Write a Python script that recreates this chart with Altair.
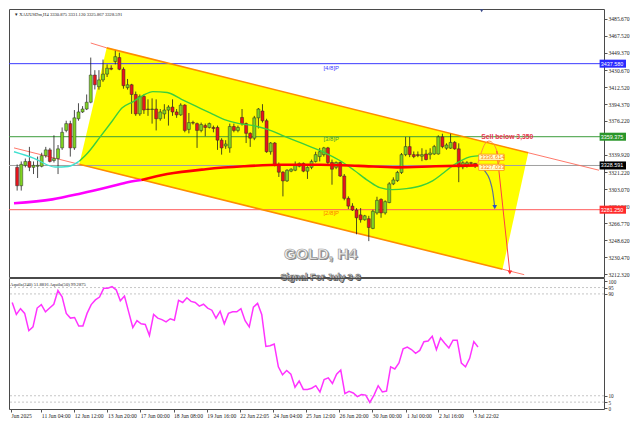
import json
import altair as alt
import pandas as pd

# ---------------- candles (XAUUSDm, H4) ----------------
opens = [3326.6, 3306.9, 3328.7, 3332.9, 3326.6, 3327.7, 3327.7, 3339.1, 3345.3, 3333.9,
         3336.0, 3347.4, 3366.1, 3373.4, 3347.4, 3378.6, 3385.9, 3389.0, 3396.3, 3425.4,
         3412.9, 3420.2, 3426.4, 3432.7, 3439.9, 3444.1, 3431.6, 3411.9, 3415.0, 3404.6,
         3383.8, 3402.5, 3389.0, 3388.5, 3389.0, 3378.6, 3383.8, 3387.9, 3391.1, 3385.9,
         3382.8, 3393.2, 3367.2, 3374.5, 3373.4, 3366.1, 3371.3, 3369.3, 3369.3, 3369.3,
         3355.7, 3349.5, 3347.4, 3370.3, 3366.1, 3380.0, 3373.4, 3363.0, 3357.8, 3379.6,
         3386.9, 3376.5, 3343.3, 3352.6, 3329.8, 3321.4, 3312.1, 3322.5, 3323.5, 3327.7,
         3330.8, 3322.5, 3326.6, 3332.9, 3338.1, 3340.2, 3347.4, 3331.8, 3326.6, 3331.8,
         3317.3, 3293.4, 3285.1, 3280.9, 3275.7, 3270.5, 3271.6, 3261.2, 3277.8, 3292.3,
         3277.8, 3288.9, 3308.9, 3312.4, 3321.1, 3340.2, 3348.8, 3340.2, 3340.2, 3338.5,
         3340.9, 3340.2, 3340.9, 3340.9, 3359.2, 3347.1, 3347.1, 3353.3, 3346.4, 3327.0,
         3329.0, 3331.5, 3330.875]
highs = [3329.7, 3332.9, 3336.0, 3348.5, 3332.9, 3338.1, 3342.2, 3348.5, 3347.4, 3360.9,
         3350.5, 3369.3, 3376.5, 3376.5, 3387.9, 3395.2, 3392.1, 3404.6, 3444.1, 3430.6,
         3430.6, 3442.0, 3436.8, 3435.8, 3451.4, 3449.3, 3433.7, 3421.2, 3416.0, 3407.7,
         3404.6, 3404.6, 3399.4, 3400.4, 3399.4, 3389.0, 3394.2, 3393.1, 3399.4, 3389.0,
         3395.2, 3394.2, 3384.8, 3376.5, 3374.5, 3374.5, 3373.4, 3374.5, 3371.3, 3371.3,
         3357.8, 3355.7, 3373.4, 3373.4, 3371.3, 3389.0, 3374.5, 3364.1, 3381.7, 3390.1,
         3394.2, 3378.6, 3353.7, 3353.7, 3331.8, 3322.5, 3324.6, 3325.6, 3332.9, 3331.8,
         3331.8, 3327.7, 3334.9, 3343.3, 3347.4, 3348.5, 3348.5, 3334.9, 3332.9, 3332.9,
         3319.4, 3295.5, 3288.2, 3283.0, 3283.0, 3275.7, 3274.7, 3281.2, 3295.1, 3293.4,
         3291.3, 3310.7, 3315.9, 3322.8, 3341.9, 3359.2, 3359.2, 3343.6, 3343.6, 3347.0,
         3345.4, 3347.0, 3350.6, 3360.9, 3362.6, 3352.3, 3362.6, 3354.7, 3352.3, 3333.2,
         3333.2, 3332.5, 3331.120]
lows = [3301.7, 3301.7, 3326.6, 3322.5, 3319.4, 3315.2, 3326.6, 3337.0, 3331.8, 3331.8,
        3319.4, 3345.3, 3364.1, 3338.1, 3345.3, 3376.5, 3384.8, 3387.9, 3395.2, 3410.0,
        3409.8, 3418.1, 3423.3, 3430.6, 3436.8, 3430.6, 3410.8, 3409.8, 3383.8, 3381.7,
        3381.7, 3383.8, 3381.7, 3373.4, 3366.1, 3376.5, 3378.6, 3371.3, 3381.7, 3379.6,
        3381.7, 3364.1, 3363.0, 3372.4, 3347.4, 3364.1, 3359.9, 3368.2, 3364.1, 3345.3,
        3340.2, 3346.4, 3342.2, 3364.1, 3364.1, 3371.3, 3352.6, 3348.5, 3355.7, 3368.2,
        3374.5, 3342.2, 3340.2, 3327.7, 3316.3, 3295.5, 3311.0, 3321.4, 3322.5, 3326.6,
        3321.4, 3314.2, 3324.6, 3331.8, 3332.9, 3338.1, 3329.8, 3308.0, 3324.6, 3316.3,
        3291.3, 3281.9, 3279.9, 3254.9, 3267.4, 3269.5, 3247.6, 3260.4, 3276.0, 3272.6,
        3276.0, 3288.2, 3307.6, 3311.0, 3319.5, 3338.5, 3337.5, 3336.4, 3337.5, 3333.2,
        3334.0, 3335.0, 3339.9, 3340.2, 3347.0, 3345.4, 3346.4, 3345.4, 3310.7, 3324.6,
        3326.3, 3329.0, 3325.867]
closes = [3306.9, 3329.8, 3332.9, 3326.6, 3328.7, 3328.7, 3339.1, 3345.3, 3332.9, 3336.0,
          3346.4, 3364.1, 3373.4, 3347.4, 3379.6, 3385.9, 3389.0, 3396.3, 3425.4, 3415.0,
          3420.2, 3426.4, 3432.7, 3431.7, 3445.1, 3431.6, 3414.0, 3415.0, 3404.6, 3383.8,
          3402.5, 3388.0, 3388.5, 3389.0, 3378.6, 3385.9, 3387.9, 3391.1, 3385.9, 3382.8,
          3393.2, 3366.1, 3374.5, 3374.0, 3366.1, 3372.4, 3369.3, 3373.4, 3368.2, 3355.7,
          3347.4, 3351.6, 3370.3, 3366.1, 3369.3, 3373.4, 3363.0, 3357.8, 3379.6, 3389.0,
          3376.5, 3343.3, 3352.6, 3329.8, 3321.4, 3312.1, 3323.5, 3324.6, 3328.7, 3330.8,
          3322.5, 3326.6, 3332.9, 3340.2, 3343.3, 3347.4, 3331.8, 3324.6, 3331.8, 3317.3,
          3293.4, 3285.1, 3280.9, 3272.6, 3270.5, 3274.7, 3262.2, 3279.6, 3291.3, 3277.8,
          3289.9, 3308.9, 3313.1, 3321.1, 3340.2, 3348.8, 3340.2, 3338.1, 3339.2, 3340.2,
          3335.0, 3341.9, 3348.8, 3359.2, 3348.8, 3350.5, 3353.3, 3346.4, 3327.0, 3331.5,
          3331.5, 3330.9, 3328.591]

# ---------------- moving averages ----------------
fast_cyan_x = [-0.77, 4.0, 9.3, 12.5, 15.2]
fast_cyan_y = [3343.3, 3336.5, 3326.9, 3327.5, 3333.2]
fast_green_x = [15.2, 17.3, 20.3, 23.3, 25.7, 28.5, 30.8, 33.2, 36.7, 40.2, 43.7, 47.2, 50.7,
                54.3, 57.8, 61.3, 64.8, 68.3, 71.8, 75.3, 78.9, 82.4, 85.9, 88.7, 91.7, 95.2,
                98.8, 101.6, 103.9, 106.3, 108.6, 111.0, 113.3]
fast_green_y = [3333.2, 3342.2, 3359.2, 3376.5, 3390.3, 3397.3, 3403.6, 3407.7, 3406.7, 3399.4,
                3392.1, 3384.8, 3377.6, 3373.4, 3371.3, 3367.2, 3360.9, 3354.7, 3348.5, 3342.2,
                3333.9, 3323.5, 3312.1, 3304.8, 3302.7, 3303.8, 3306.9, 3312.1, 3319.4, 3327.7,
                3333.9, 3338.1, 3339.1]
slow_mag_x = [-0.77, 8.6, 15.6, 22.6, 27.3, 30.4]
slow_mag_y = [3288.2, 3292.3, 3298.6, 3305.8, 3311.0, 3313.1]
slow_red_x = [30.4, 36.7, 46.1, 55.4, 64.8, 74.2, 83.5, 92.9, 102.3, 112.8]
slow_red_y = [3313.1, 3319.4, 3324.6, 3327.7, 3329.3, 3329.3, 3328.2, 3326.6, 3327.7, 3328.7]

# ---------------- channel ----------------
yel_x = [15.2, 21.9, 118.7, 125.0]
yel_top = [3329.8, 3454.5, 3349.1, 3342.2]
yel_bot = [3329.8, 3322.5, 3217.5, 3342.2]
chan_main_x = [21.9, 125.0, 15.2, 118.7]
chan_main_y = [3454.5, 3342.2, 3329.8, 3217.5]
chan_main_seg = ["u", "u", "l", "l"]
chan_ext_x = [18.0, 21.9, 125.0, 142.3, -0.77, 15.2, 118.7, 124.0]
chan_ext_y = [3459.7, 3454.5, 3342.2, 3323.5, 3347.4, 3329.8, 3217.5, 3211.7]
chan_ext_seg = ["a", "a", "b", "b", "c", "c", "d", "d"]

# ---------------- levels ----------------
level_prices = [3437.58, 3359.375, 3328.591, 3281.25]
level_labels = ["3437.580", "3359.375", "3328.591", "3281.250"]
level_line_colors = ["#3b3bff", "#3c9c3c", "#a0a0a0", "#ff5a5a"]
level_box_colors = ["#2a2aff", "#2a962a", "#000000", "#ff2a2a"]
murrey_labels = ["[4/8]P", "[3/8]P", "[2/8]P"]
murrey_prices = [3433.2, 3356.8, 3277.8]
murrey_colors = ["#3c3cff", "#3a9a3a", "#ff7a00"]

# ---------------- forecast paths ----------------
sell_x = [112.6, 113.5, 114.4, 115.4, 116.3, 117.3, 118.0]
sell_y = [3329.8, 3342.2, 3351.6, 3354.7, 3352.6, 3344.3, 3331.8]
drop_x = [117.3, 120.5]
drop_y = [3344.3, 3214.0]
alt_x = [113.0, 114.4, 115.6, 116.3, 116.8]
alt_y = [3327.7, 3322.5, 3313.1, 3300.7, 3284.0]
box_labels = ["3336.614", "3327.033"]
box_prices = [3337.4, 3326.6]

price_ticks = [3485.67, 3467.52, 3449.37, 3430.67, 3412.52, 3394.37, 3376.22,
               3339.92, 3321.22, 3303.07, 3284.92, 3266.77, 3248.62, 3230.47, 3212.32]

# ---------------- Aquila oscillator ----------------
aquila = [83.3, 73.9, 78.4, 74.7, 61.1, 64.1, 78.9, 81.6, 75.9,
          78.9, 81.9, 92.7, 87.8, 74.7, 71.0, 71.5, 64.8, 64.8, 74.7,
          81.6, 85.3, 87.5, 94.4, 94.4, 95.7, 93.2, 84.6, 88.3, 75.9,
          63.6, 69.0, 66.5, 66.0, 57.4, 73.9, 71.0, 69.8, 68.0, 70.5,
          69.3, 85.0, 83.3, 87.0, 84.1, 83.3, 80.4, 81.9, 78.9, 77.2,
          71.0, 76.4, 66.5, 74.7, 75.9, 75.9, 78.4, 69.0, 64.1, 79.6,
          82.6, 73.9, 48.7, 49.3, 50.7, 32.7, 26.5, 29.8, 27.0, 16.7,
          21.6, 15.0, 15.0, 15.9, 17.9, 13.0,
          22.8, 24.1, 19.6, 27.0, 30.2, 11.7, 13.5, 12.2, 9.3, 11.0,
          10.5, 4.8, 10.5, 17.9, 13.0, 13.7, 32.7, 31.0, 35.7, 46.8,
          48.3, 46.3, 43.3, 45.6, 52.5, 53.0, 56.7, 46.3, 55.4, 51.3,
          47.6, 53.7, 53.7, 35.7, 32.7, 39.4, 52.5, 48.3]
osc_levels = [95, 90, 10, 5]
osc_ticks = [0, 5, 10, 90, 95, 100]

time_ticks = [-0.3, 7.0, 14.9, 22.9, 30.8, 38.8, 46.8, 54.7, 62.7, 70.6, 78.6, 86.6, 94.8, 102.5, 110.9]
time_labels = ["Jun 2025", "11 Jun 04:00", "12 Jun 12:00", "13 Jun 20:00", "17 Jun 00:00",
               "18 Jun 08:00", "19 Jun 16:00", "22 Jun 22:05", "24 Jun 04:00", "25 Jun 12:00",
               "26 Jun 20:00", "30 Jun 00:00", "1 Jul 00:00", "2 Jul 16:00", "3 Jul 22:02"]

# ---------------- build ----------------
W, H1, H2 = 595, 268, 131
SERIF = "Liberation Serif"
SANS = "Liberation Sans"

xsc = alt.Scale(domain=[-0.77, 142.3], nice=False, zero=False)
ysc = alt.Scale(domain=[3209.2, 3496.1], nice=False, zero=False)
osc_sc = alt.Scale(domain=[-0.4, 102.5], nice=False, zero=False)

y_axis = alt.Axis(orient="right", values=price_ticks, format=".3f", labelFont=SERIF,
                  labelFontSize=5.6, labelColor="#222", tickSize=3, tickColor="#555",
                  domain=False, grid=False, labelPadding=1, labelOverlap=False,
                  labelAlign="left", labelBaseline="middle")


def X(field="x"):
    return alt.X(f"{field}:Q", scale=xsc, axis=None, title=None)


def Y(field="y"):
    return alt.Y(f"{field}:Q", scale=ysc, axis=y_axis, title=None)


n = len(closes)
cdf = pd.DataFrame({"x": list(range(n)), "open": opens, "high": highs, "low": lows,
                    "close": closes})
cdf["dir"] = ["up" if c >= o else "down" for o, c in zip(opens, closes)]

yel = alt.Chart(pd.DataFrame({"x": yel_x, "top": yel_top, "bot": yel_bot})).mark_area(
    color="#ffff00", opacity=1).encode(x=X(), y=Y("top"), y2="bot:Q")

lv = pd.DataFrame({"y": level_prices, "c": level_line_colors, "lab": level_labels,
                   "bc": level_box_colors})
level_rules = alt.Chart(lv).mark_rule(strokeWidth=1).encode(
    y=Y(), color=alt.Color("c:N", scale=None))

ext = alt.Chart(pd.DataFrame({"x": chan_ext_x, "y": chan_ext_y, "s": chan_ext_seg})).mark_line(
    color="#ff6a5a", strokeWidth=0.9).encode(x=X(), y=Y(), detail="s:N")
chan = alt.Chart(pd.DataFrame({"x": chan_main_x, "y": chan_main_y, "s": chan_main_seg})).mark_line(
    color="#ff8c00", strokeWidth=1.6).encode(x=X(), y=Y(), detail="s:N")

mm = pd.DataFrame({"lab": murrey_labels, "y": murrey_prices, "c": murrey_colors,
                   "x": [74.9, 74.9, 74.9]})
murrey_txt = alt.Chart(mm).mark_text(align="left", baseline="middle", font=SANS, fontSize=6).encode(
    x=X(), y=Y(), text="lab:N", color=alt.Color("c:N", scale=None))

wick = alt.Chart(cdf).mark_rule(color="#1e1e1e", strokeWidth=0.8).encode(
    x=X(), y=Y("low"), y2="high:Q")
body = alt.Chart(cdf).mark_bar(size=3, stroke="#2a2a2a", strokeWidth=0.5).encode(
    x=X(), y=Y("open"), y2="close:Q",
    color=alt.Color("dir:N", scale=alt.Scale(domain=["up", "down"], range=["#7ed321", "#e8141c"]),
                    legend=None))

fast_c = alt.Chart(pd.DataFrame({"x": fast_cyan_x, "y": fast_cyan_y})).mark_line(
    color="#40e0d0", strokeWidth=1.4, interpolate="monotone").encode(x=X(), y=Y())
fast_g = alt.Chart(pd.DataFrame({"x": fast_green_x, "y": fast_green_y})).mark_line(
    color="#3ccf3c", strokeWidth=1.4, interpolate="monotone").encode(x=X(), y=Y())
slow_m = alt.Chart(pd.DataFrame({"x": slow_mag_x, "y": slow_mag_y})).mark_line(
    color="#ff00ff", strokeWidth=2.6, interpolate="monotone").encode(x=X(), y=Y())
slow_r = alt.Chart(pd.DataFrame({"x": slow_red_x, "y": slow_red_y})).mark_line(
    color="#ff0000", strokeWidth=2.6, interpolate="monotone").encode(x=X(), y=Y())

sell_path = alt.Chart(pd.DataFrame({"x": sell_x, "y": sell_y})).mark_line(
    color="#ff8c3a", strokeWidth=1, interpolate="monotone").encode(x=X(), y=Y())
drop_path = alt.Chart(pd.DataFrame({"x": drop_x, "y": drop_y})).mark_line(
    color="#ff4040", strokeWidth=1).encode(x=X(), y=Y())
alt_path = alt.Chart(pd.DataFrame({"x": alt_x, "y": alt_y})).mark_line(
    color="#5a6f9a", strokeWidth=1.2, interpolate="monotone").encode(x=X(), y=Y())
heads = alt.Chart(pd.DataFrame({"x": [drop_x[-1], alt_x[-1]], "y": [drop_y[-1], alt_y[-1]],
                                "c": ["#ff3030", "#2f50c8"]})).mark_point(
    shape="triangle-down", filled=True, size=22, opacity=1).encode(
    x=X(), y=Y(), color=alt.Color("c:N", scale=None))

bx = pd.DataFrame({"lab": box_labels, "y": box_prices})
bx["x0"] = 112.9
bx["x1"] = 119.1
bx["y0"] = bx["y"] - 3.3
bx["y1"] = bx["y"] + 3.3
bx["xt"] = 113.3
box_rect = alt.Chart(bx).mark_rect(fill="#ffffd0", stroke="#ff8c00", strokeWidth=0.8).encode(
    x=X("x0"), x2="x1:Q", y=Y("y0"), y2="y1:Q")
box_txt = alt.Chart(bx).mark_text(align="left", baseline="middle", font=SANS, fontSize=5.8,
                                  color="#ff7a00").encode(x=X("xt"), y=Y(), text="lab:N")

sell_txt = alt.Chart(pd.DataFrame({"x": [113.5], "y": [3359.4], "t": ["Sell below 3,350"]})).mark_text(
    align="left", baseline="middle", font=SANS, fontSize=6.8, fontWeight="bold",
    color="#e8384f").encode(x=X(), y=Y(), text="t:N")

lv["x0"] = 142.45
lv["x1"] = 148.9
lv["y0"] = lv["y"] - 4.3
lv["y1"] = lv["y"] + 4.3
lv["xt"] = 142.75
axis_box = alt.Chart(lv).mark_rect().encode(
    x=X("x0"), x2="x1:Q", y=Y("y0"), y2="y1:Q", color=alt.Color("bc:N", scale=None))
axis_box_txt = alt.Chart(lv).mark_text(align="left", baseline="middle", font=SANS, fontSize=5.4,
                                       color="white").encode(x=X("xt"), y=Y(), text="lab:N")

hdr = alt.Chart(pd.DataFrame({"x": [-0.5], "y": [3490.0],
                              "t": ["\u25be XAUUSDm,H4 3330.875 3331.120 3325.867 3328.591"]})).mark_text(
    align="left", baseline="middle", font=SERIF, fontSize=4.6, color="#222").encode(
    x=X(), y=Y(), text="t:N")
top_mark = alt.Chart(pd.DataFrame({"x": [113.6], "y": [3494.3]})).mark_point(
    shape="triangle-down", filled=True, size=12, color="#3a4a8a", opacity=1).encode(x=X(), y=Y())

title_df = pd.DataFrame({"x": [74.2], "y": [3234.0], "t": ["GOLD, H4"]})
gold_shadow = alt.Chart(title_df).mark_text(font=SANS, fontSize=15.5, fontWeight="bold",
                                            color="#8a8a8a", dx=1.3, dy=1.3).encode(
    x=X(), y=Y(), text="t:N")
gold = alt.Chart(title_df).mark_text(font=SANS, fontSize=15.5, fontWeight="bold", color="#f4f4f4",
                                     stroke="#9a9a9a", strokeWidth=0.7).encode(
    x=X(), y=Y(), text="t:N")
sig_df = pd.DataFrame({"x": [74.2], "y": [3209.6], "t": ["Signal For July 3-8"]})
sig_shadow = alt.Chart(sig_df).mark_text(font=SANS, fontSize=9, fontWeight="bold", color="#555",
                                         dx=0.9, dy=0.9).encode(x=X(), y=Y(), text="t:N")
sig = alt.Chart(sig_df).mark_text(font=SANS, fontSize=9, fontWeight="bold", color="#ffffff",
                                  stroke="#6a6a6a", strokeWidth=0.6).encode(x=X(), y=Y(), text="t:N")

top = alt.layer(
    yel, level_rules, ext, chan, murrey_txt, wick, body, fast_c, fast_g, slow_m, slow_r,
    sell_path, drop_path, alt_path, heads, box_rect, box_txt, sell_txt,
    axis_box, axis_box_txt, hdr, top_mark, gold_shadow, gold, sig_shadow, sig
).properties(width=W, height=H1)

# ---------- oscillator panel ----------
label_expr = (json.dumps(time_labels) + "[indexof(" + json.dumps(time_ticks) + ", datum.value)]")
x_axis = alt.Axis(values=time_ticks, labelExpr=label_expr, labelAlign="left", labelFlush=False,
                  labelFont=SERIF, labelFontSize=5.6, labelColor="#222", tickSize=3,
                  tickColor="#555", domain=False, grid=False, labelPadding=1,
                  labelOverlap=False, labelBaseline="top")
osc_axis = alt.Axis(orient="right", values=osc_ticks, labelFont=SERIF, labelFontSize=5.2,
                    labelColor="#222", tickSize=3, tickColor="#555", domain=False, grid=False,
                    labelPadding=1, labelOverlap=False, labelAlign="left", labelBaseline="middle")

odf = pd.DataFrame({"x": list(range(len(aquila))), "v": aquila})
osc_rules = alt.Chart(pd.DataFrame({"v": osc_levels})).mark_rule(
    color="#b8b8b8", strokeWidth=0.8, strokeDash=[2, 2]).encode(
    y=alt.Y("v:Q", scale=osc_sc, axis=osc_axis, title=None))
osc_line = alt.Chart(odf).mark_line(color="#ff33ff", strokeWidth=1.5).encode(
    x=alt.X("x:Q", scale=xsc, axis=x_axis, title=None),
    y=alt.Y("v:Q", scale=osc_sc, axis=osc_axis, title=None))
osc_hdr = alt.Chart(pd.DataFrame({"x": [-0.5], "v": [97.0],
                                  "t": ["Aquila(240) 51.8816  Aquila(50) 99.2875"]})).mark_text(
    align="left", baseline="middle", font=SERIF, fontSize=4.6, color="#222").encode(
    x=alt.X("x:Q", scale=xsc, axis=x_axis, title=None),
    y=alt.Y("v:Q", scale=osc_sc, axis=osc_axis, title=None), text="t:N")

bottom = alt.layer(osc_rules, osc_line, osc_hdr).properties(width=W, height=H2)

chart = alt.vconcat(top, bottom, spacing=1, bounds="flush").properties(
    padding={"left": 0, "top": 0, "right": 0, "bottom": 0}, background="white"
).configure_view(stroke="#4a4a4a", strokeWidth=1)

chart.save("out.html", embed_options={"renderer": "svg", "actions": False})
